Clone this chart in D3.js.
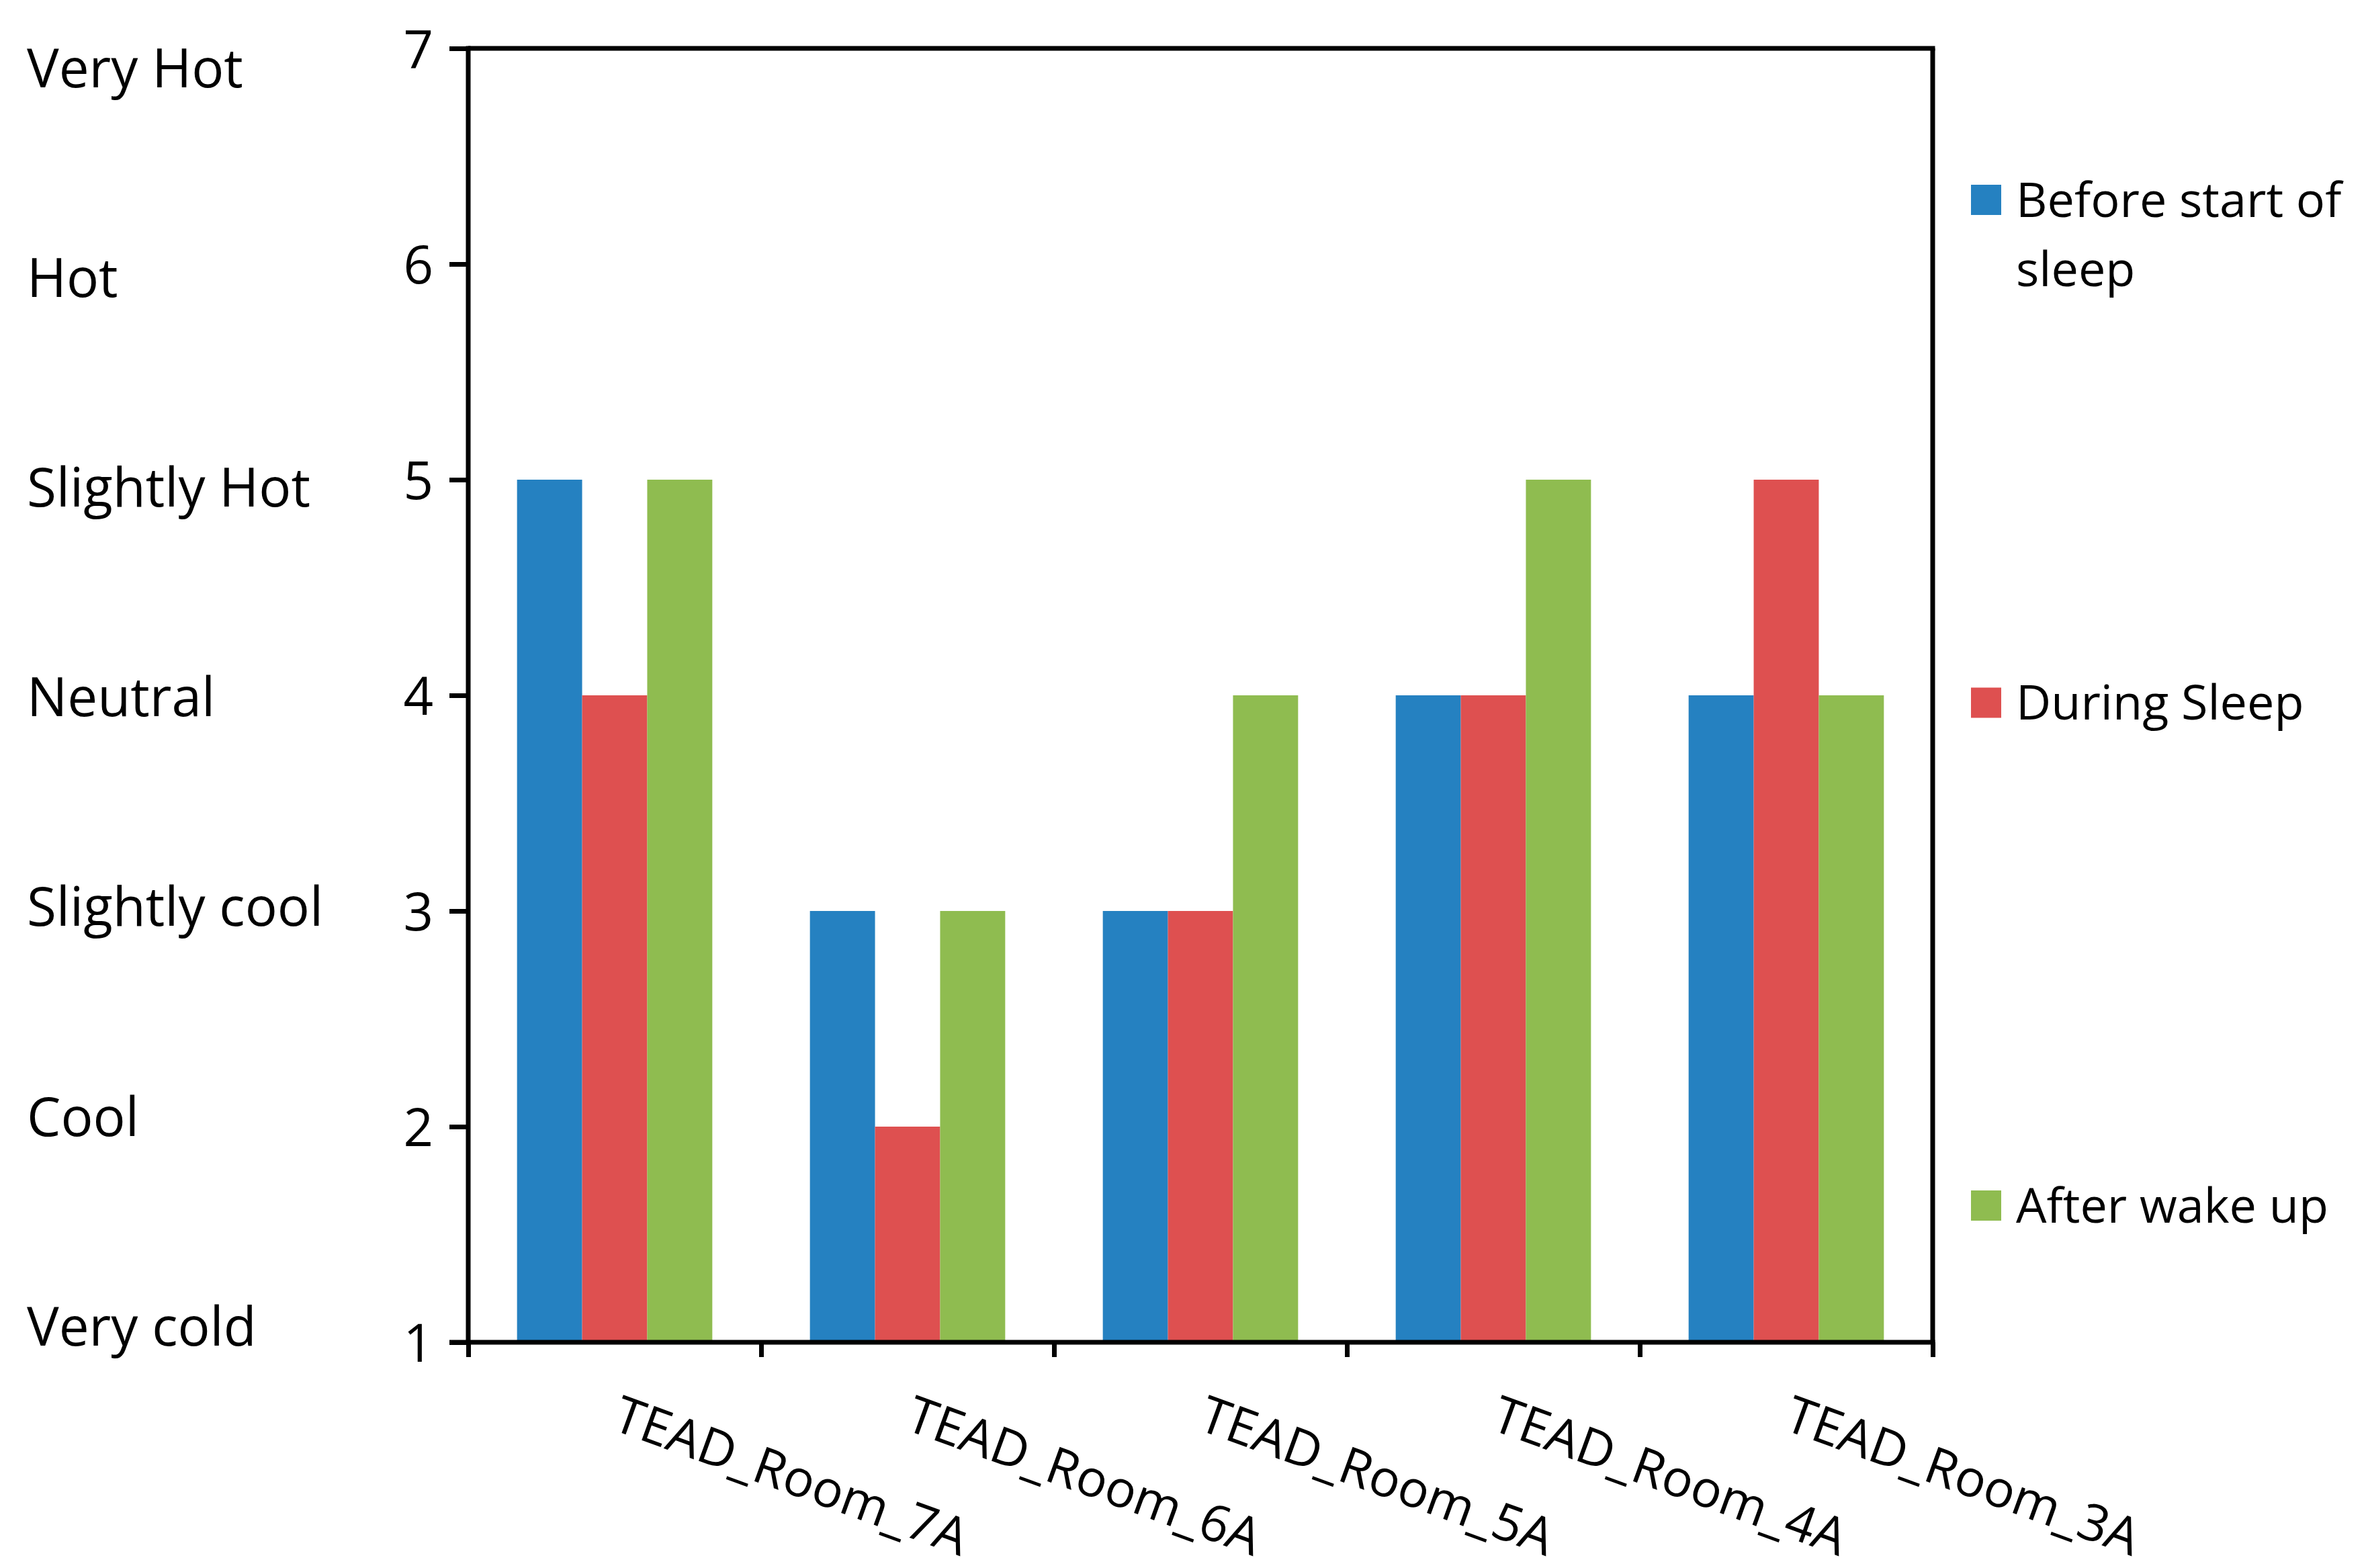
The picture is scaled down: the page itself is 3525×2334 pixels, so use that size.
<!DOCTYPE html>
<html>
<head>
<meta charset="utf-8">
<script src="https://cdn.jsdelivr.net/npm/d3@7"></script>
<style>
  html, body { margin: 0; padding: 0; background: #fff; }
  svg { display: block; }
  text { font-family: "Open Sans", "Noto Sans", sans-serif; fill: #000; }
</style>
</head>
<body>
<svg id="chart" width="3525" height="2334"></svg>
<script>
// ---- data ----
const categories = ["TEAD_Room_7A", "TEAD_Room_6A", "TEAD_Room_5A", "TEAD_Room_4A", "TEAD_Room_3A"];
const seriesNames = ["Before start of sleep", "During Sleep", "After wake up"];
const beforeSleep = [5, 3, 3, 4, 4];
const duringSleep = [4, 2, 3, 4, 5];
const afterWake   = [5, 3, 4, 5, 4];
const yTicks = [1, 2, 3, 4, 5, 6, 7];
const levelLabels = ["Very cold", "Cool", "Slightly cool", "Neutral", "Slightly Hot", "Hot", "Very Hot"];
const legendLines = [["Before start of", "sleep"], ["During Sleep"], ["After wake up"]];
const colors = ["#2581C1", "#DE5050", "#8FBC50"];

const seriesValues = [beforeSleep, duringSleep, afterWake];

// ---- layout ----
const svg = d3.select("#chart");
const L = 697, R = 2877, T = 72, B = 1998;
const SW = 7;

const x0 = d3.scaleBand().domain(categories).range([L, R]).padding(0);
const bw = x0.bandwidth();
const x1 = d3.scaleBand().domain(d3.range(seriesNames.length)).range([bw / 6, bw * 5 / 6]).padding(0);
const y = d3.scaleLinear().domain([1, 7]).range([B, T]);

// bars
const groups = svg.append("g").selectAll("g")
  .data(categories)
  .join("g")
  .attr("transform", d => `translate(${x0(d)},0)`);

groups.selectAll("rect")
  .data((d, i) => seriesValues.map((vals, s) => ({ s, v: vals[i] })))
  .join("rect")
  .attr("x", d => x1(d.s))
  .attr("width", x1.bandwidth())
  .attr("y", d => y(d.v))
  .attr("height", d => y(1) - y(d.v))
  .attr("fill", d => colors[d.s]);

// frame: top and right border
svg.append("line").attr("x1", L).attr("x2", R + SW / 2).attr("y1", T).attr("y2", T)
  .attr("stroke", "#000").attr("stroke-width", SW);
svg.append("line").attr("x1", R).attr("x2", R).attr("y1", T).attr("y2", B)
  .attr("stroke", "#000").attr("stroke-width", SW);

// y axis
const yAxis = svg.append("g").attr("transform", `translate(${L},0)`)
  .call(d3.axisLeft(y).tickValues(yTicks).tickFormat(d3.format("d")).tickSize(28).tickPadding(24));
yAxis.select(".domain").attr("stroke", "#000").attr("stroke-width", SW).attr("d", `M0,${T - SW / 2}V${B}`);
yAxis.selectAll(".tick line").attr("stroke", "#000").attr("stroke-width", SW);
yAxis.selectAll(".tick text").attr("font-size", 78).attr("font-family", "Open Sans").attr("dy", "0.36em");

// x axis
const xAxisScale = d3.scaleLinear().domain([0, categories.length]).range([L, R]);
const xAxis = svg.append("g").attr("transform", `translate(0,${B})`)
  .call(d3.axisBottom(xAxisScale).tickValues(d3.range(categories.length + 1)).tickFormat("").tickSize(22));
xAxis.select(".domain").attr("stroke", "#000").attr("stroke-width", SW).attr("d", `M${L - 28},0H${R + SW / 2}`);
xAxis.selectAll(".tick line").attr("stroke", "#000").attr("stroke-width", SW);

// rotated category labels
svg.append("g").selectAll("text")
  .data(categories)
  .join("text")
  .attr("transform", d => `translate(${x0(d) + bw / 2 + 16},${2066}) rotate(20)`)
  .attr("text-anchor", "start")
  .attr("dominant-baseline", "hanging")
  .attr("font-size", 76)
  .text(d => d);

// descriptive level labels on the left
const yLevel = d3.scalePoint().domain(levelLabels).range([1974, 101]);
svg.append("g").selectAll("text")
  .data(levelLabels)
  .join("text")
  .attr("x", 40)
  .attr("y", d => yLevel(d))
  .attr("dy", "0.36em")
  .attr("font-size", 80)
  .text(d => d);

// legend
const legY = d3.scalePoint().domain(d3.range(seriesNames.length)).range([297, 1794]);
const leg = svg.append("g").selectAll("g")
  .data(seriesNames.map((n, i) => i))
  .join("g")
  .attr("transform", i => `translate(2934,${legY(i)})`);
leg.append("rect")
  .attr("x", 0).attr("y", -22).attr("width", 45).attr("height", 45)
  .attr("fill", i => colors[i]);
leg.each(function(i) {
  const t = d3.select(this).append("text").attr("x", 67).attr("font-size", 72);
  legendLines[i].forEach((line, k) => {
    t.append("tspan").attr("x", 67).attr("y", k * 103).attr("dy", "0.36em").text(line);
  });
});
</script>
</body>
</html>
